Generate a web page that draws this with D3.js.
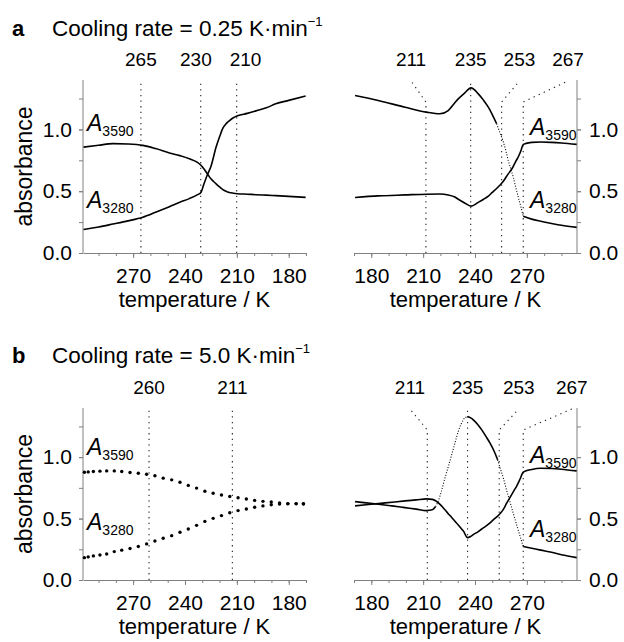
<!DOCTYPE html>
<html>
<head>
<script src="https://cdn.jsdelivr.net/npm/d3@7"></script>
<style>
  body { margin: 0; background: #fff; }
  text { font-family: "Liberation Sans", Arial, Helvetica, sans-serif; fill: #000; }
</style>
</head>
<body>
<script>
// ---- data ----
// (a) 0.25 K/min, cooling
var tempCoolA  = [298.7, 290, 281.7, 273, 264.4, 257, 249, 243, 237.5, 233, 230.8, 229, 227, 225, 222, 220, 218.3, 216.3, 214.4, 212, 209.6, 204, 199, 193, 187.5, 180, 170.2];
var a3590CoolA = [0.857, 0.872, 0.885, 0.882, 0.871, 0.845, 0.81, 0.788, 0.763, 0.735, 0.71, 0.68, 0.64, 0.60, 0.56, 0.535, 0.515, 0.50, 0.49, 0.484, 0.48, 0.476, 0.472, 0.468, 0.464, 0.458, 0.45];
var a3280CoolA = [0.19, 0.21, 0.234, 0.26, 0.29, 0.33, 0.375, 0.41, 0.44, 0.47, 0.49, 0.56, 0.635, 0.70, 0.857, 0.94, 1.005, 1.045, 1.07, 1.095, 1.11, 1.13, 1.15, 1.175, 1.207, 1.235, 1.27];

// (a) warming
var tempWarmA  = [170.6, 184, 199.5, 212, 219.7, 224.5, 228, 230.3, 234, 237.7, 241.9, 245, 247.7, 250, 252.5, 254.5, 256.4, 258, 259.2, 260.7, 262.1, 263.5, 265, 266.5, 267.9, 272.8, 278, 284.3, 290, 298.8];
var a3280WarmA = [1.274, 1.234, 1.18, 1.14, 1.127, 1.153, 1.21, 1.247, 1.295, 1.336, 1.288, 1.235, 1.18, 1.12, 1.046, 0.97, 0.898, 0.82, 0.75, 0.68, 0.615, 0.535, 0.454, 0.375, 0.298, 0.274, 0.257, 0.239, 0.224, 0.207];
var a3590WarmA = [0.449, 0.462, 0.47, 0.476, 0.477, 0.47, 0.455, 0.435, 0.405, 0.379, 0.41, 0.435, 0.46, 0.49, 0.522, 0.55, 0.58, 0.615, 0.64, 0.668, 0.70, 0.74, 0.777, 0.825, 0.879, 0.895, 0.898, 0.895, 0.89, 0.879];

// (b) 5.0 K/min, cooling (measured points)
var tempCoolB  = [298.2, 296, 293, 289.2, 285.3, 280.9, 276.6, 271.8, 267, 262.2, 257.4, 252.6, 247.7, 242.9, 238.1, 233.3, 228.5, 223.7, 218.9, 214.1, 209.3, 204.5, 199.7, 194.9, 190.1, 185.3, 180.5, 175.7, 171.5];
var a3590CoolB = [0.877, 0.880, 0.883, 0.886, 0.888, 0.888, 0.883, 0.875, 0.869, 0.861, 0.848, 0.829, 0.815, 0.796, 0.77, 0.748, 0.722, 0.706, 0.692, 0.68, 0.67, 0.659, 0.648, 0.64, 0.635, 0.627, 0.622, 0.622, 0.622];
var a3280CoolB = [0.182, 0.188, 0.196, 0.203, 0.212, 0.231, 0.243, 0.256, 0.273, 0.294, 0.318, 0.34, 0.361, 0.389, 0.415, 0.445, 0.477, 0.502, 0.524, 0.547, 0.565, 0.578, 0.592, 0.603, 0.612, 0.618, 0.62, 0.62, 0.618];

// (b) warming
var tempWarmB  = [170.6, 177, 184.1, 192, 199.5, 206, 212, 215.3, 217.2, 218.8, 220.5, 222.6, 224.5, 226.5, 228.4, 230.3, 232, 233.2, 235.7, 237.5, 239, 241.9, 243.9, 246.5, 248.7, 251, 253.1, 254.8, 256.4, 258.3, 260.2, 262.2, 264.1, 266, 267.9, 272.8, 278, 284.3, 290, 298.8];
var a3280WarmB = [0.638, 0.628, 0.617, 0.603, 0.589, 0.577, 0.565, 0.571, 0.598, 0.644, 0.72, 0.829, 0.92, 1.019, 1.115, 1.209, 1.27, 1.304, 1.331, 1.32, 1.304, 1.26, 1.222, 1.165, 1.114, 1.05, 0.978, 0.9, 0.829, 0.73, 0.638, 0.54, 0.448, 0.36, 0.272, 0.258, 0.243, 0.226, 0.205, 0.182];
var a3590WarmB = [0.603, 0.612, 0.622, 0.633, 0.644, 0.652, 0.66, 0.656, 0.645, 0.628, 0.605, 0.571, 0.54, 0.509, 0.478, 0.448, 0.42, 0.4, 0.345, 0.355, 0.37, 0.394, 0.415, 0.44, 0.465, 0.495, 0.52, 0.545, 0.575, 0.625, 0.67, 0.72, 0.765, 0.82, 0.878, 0.9, 0.91, 0.908, 0.902, 0.888];

// temperature ranges where the fast-changing trace shows as sparse points
var sparseWarmA = [[252.5, 267.9]];
var sparseWarmB = [[217.2, 235.7], [253.1, 267.9]];

// transition markers: [label, temperature of the line, temperature under the label]
var marksCoolA = [[265, 265.5, 265.5], [230, 230.9, 233.7], [210, 210.1, 205]];
var marksWarmA = [[211, 211.6, 203], [235, 237.5, 237.3], [253, 255.4, 265.7], [267, 267.9, 293.8]];
var marksCoolB = [[260, 260.8, 261.2], [211, 212.6, 212.6]];
var marksWarmB = [[211, 212.4, 202.4], [235, 235.7, 236.3], [253, 254, 265.3], [267, 267.9, 296]];

var tempDomain = [170, 299];
var xMajor = [180, 210, 240, 270];
var xMinor = d3.range(170, 300, 10);
var yMajor = [0, 0.5, 1.0];
var yMinor = [0, 0.25, 0.5, 0.75, 1.0, 1.25];
var titles = ["Cooling rate = 0.25 K\u00b7min", "Cooling rate = 5.0 K\u00b7min"];

// ---- drawing ----
var W = 624, H = 642;
var svg = d3.select('body').append('svg')
  .attr('width', W)
  .attr('height', H)
  .style('background-color', 'white');

var fmt = d3.format('.1f');

function styleAxis(g) {
  g.select('.domain').attr('stroke', '#808080').attr('stroke-width', 1);
  g.selectAll('.tick line').attr('stroke', '#808080');
  g.selectAll('.tick text').attr('font-size', 21).attr('fill', '#000')
    .attr('font-family', '"Liberation Sans", Arial, sans-serif');
}

function drawPanel(p) {
  var x = d3.scaleLinear().domain(p.side === 'left' ? [tempDomain[1], tempDomain[0]] : tempDomain)
    .range([p.x0, p.x1]);
  var y = d3.scaleLinear().domain([0, 1.4]).range([p.y1, p.y0]);
  var g = svg.append('g');

  // x axis: minor then major
  var gx = g.append('g').attr('transform', 'translate(0,' + p.y1 + ')');
  gx.call(d3.axisBottom(x).tickValues(xMinor).tickSize(3).tickSizeOuter(0).tickFormat(''));
  styleAxis(gx);
  var gx2 = g.append('g').attr('transform', 'translate(0,' + p.y1 + ')');
  gx2.call(d3.axisBottom(x).tickValues(xMajor).tickSize(5).tickSizeOuter(0).tickPadding(10).tickFormat(d3.format('d')));
  styleAxis(gx2);
  gx2.select('.domain').remove();

  // y axis
  var yx = p.side === 'left' ? p.x0 : p.x1;
  var mk = p.side === 'left' ? d3.axisLeft : d3.axisRight;
  var gy = g.append('g').attr('transform', 'translate(' + yx + ',0)');
  gy.call(mk(y).tickValues(yMinor).tickSize(4).tickSizeOuter(0).tickFormat(''));
  styleAxis(gy);
  var gy2 = g.append('g').attr('transform', 'translate(' + yx + ',0)');
  gy2.call(mk(y).tickValues(yMajor).tickSize(4).tickSizeOuter(0).tickPadding(p.side === 'left' ? 7 : 8).tickFormat(fmt));
  styleAxis(gy2);
  gy2.select('.domain').remove();
  // make sure the axis line runs to the top of the panel
  gy.select('.domain').attr('d', 'M0,' + p.y1 + 'V' + p.y0);

  // marker lines
  p.marks.forEach(function(m) {
    var xl = x(m[1]), xt = x(m[2]);
    var pts;
    if (Math.abs(xl - xt) < 2) {
      pts = [[xl, p.y1], [xl, p.y0 + 1]];
      xt = xl;
    } else if (p.leaders) {
      pts = [[xl, p.y1], [xl, p.y0 + 22], [xt, p.y0 + 1]];
    } else {
      pts = [[xl, p.y1], [xl, p.y0 + 2]];
    }
    g.append('path')
      .attr('d', d3.line()(pts))
      .attr('fill', 'none')
      .attr('stroke', '#222')
      .attr('stroke-width', 1.1)
      .attr('stroke-dasharray', '1.3,4.3');
    g.append('text')
      .attr('x', xt)
      .attr('y', p.y0 - 14)
      .attr('text-anchor', 'middle')
      .attr('font-size', 19)
      .text(m[0]);
  });

  // traces
  [[p.a3590, p.sparse3590], [p.a3280, p.sparse3280]].forEach(function(s) {
    var pts = p.temps.map(function(t, i) { return { t: t, v: s[0][i] }; });
    if (p.dots) {
      g.selectAll(null).data(pts).enter().append('circle')
        .attr('cx', function(d) { return x(d.t); })
        .attr('cy', function(d) { return y(d.v); })
        .attr('r', 1.7)
        .attr('fill', '#000');
      return;
    }
    var ranges = s[1] || [];
    var inSparse = function(t) {
      return ranges.some(function(r) { return t >= r[0] - 1e-6 && t <= r[1] + 1e-6; });
    };
    var runs = [], cur = null;
    for (var i = 0; i < pts.length - 1; i++) {
      var sp = inSparse(pts[i].t) && inSparse(pts[i + 1].t);
      if (!cur || cur.sp !== sp) { cur = { sp: sp, pts: [pts[i]] }; runs.push(cur); }
      cur.pts.push(pts[i + 1]);
    }
    var line = d3.line()
      .x(function(d) { return x(d.t); })
      .y(function(d) { return y(d.v); })
      .curve(d3.curveMonotoneX);
    runs.forEach(function(r) {
      g.append('path')
        .attr('d', line(r.pts))
        .attr('fill', 'none')
        .attr('stroke', '#000')
        .attr('stroke-width', r.sp ? 1.1 : 1.6)
        .attr('stroke-dasharray', r.sp ? '1,1.7' : null);
    });
  });

  // series labels
  p.labels.forEach(function(l) {
    var t = g.append('text').attr('x', l[1]).attr('y', l[2]).attr('font-size', 23);
    t.append('tspan').attr('font-style', 'italic').text('A');
    t.append('tspan').attr('font-size', 14).attr('dy', 5).text(l[0]);
  });

  // x title
  g.append('text')
    .attr('x', (p.x0 + p.x1) / 2)
    .attr('y', p.y1 + 54)
    .attr('text-anchor', 'middle')
    .attr('font-size', 22)
    .text('temperature / K');
}

function drawRow(r) {
  var y0 = r.y0, y1 = r.y1;
  // panel letter + title
  svg.append('text').attr('x', 12).attr('y', r.titleY)
    .attr('font-size', 22).attr('font-weight', 'bold').text(r.letter);
  var tt = svg.append('text').attr('x', 52).attr('y', r.titleY).attr('font-size', 22.5);
  tt.append('tspan').text(r.title);
  tt.append('tspan').attr('font-size', 13).attr('dy', -10).text('\u22121');

  // y title
  svg.append('text')
    .attr('transform', 'translate(32,' + ((y0 + y1) / 2) + ') rotate(-90)')
    .attr('text-anchor', 'middle')
    .attr('font-size', 23)
    .text('absorbance');

  drawPanel({
    side: 'left', x0: 83, x1: 306, y0: y0, y1: y1,
    temps: r.cool[0], a3590: r.cool[1], a3280: r.cool[2], dots: r.coolDots,
    marks: r.coolMarks, leaders: false,
    labels: [['3590', 87, y0 + r.lab[0]], ['3280', 87, y0 + r.lab[1]]]
  });
  drawPanel({
    side: 'right', x0: 354, x1: 577, y0: y0, y1: y1,
    temps: r.warm[0], a3590: r.warm[1], a3280: r.warm[2], dots: false,
    sparse3280: r.sparse,
    marks: r.warmMarks, leaders: true,
    labels: [['3590', 530, y0 + r.lab[2]], ['3280', 530, y0 + r.lab[3]]]
  });
}

drawRow({
  letter: 'a', title: titles[0], titleY: 36, y0: 80, y1: 253,
  cool: [tempCoolA, a3590CoolA, a3280CoolA], coolDots: false,
  warm: [tempWarmA, a3590WarmA, a3280WarmA], sparse: sparseWarmA,
  coolMarks: marksCoolA, warmMarks: marksWarmA,
  lab: [51, 128, 55, 128]
});
drawRow({
  letter: 'b', title: titles[1], titleY: 363, y0: 408, y1: 580,
  cool: [tempCoolB, a3590CoolB, a3280CoolB], coolDots: true,
  warm: [tempWarmB, a3590WarmB, a3280WarmB], sparse: sparseWarmB,
  coolMarks: marksCoolB, warmMarks: marksWarmB,
  lab: [47, 122, 55, 129]
});
</script>
</body>
</html>
